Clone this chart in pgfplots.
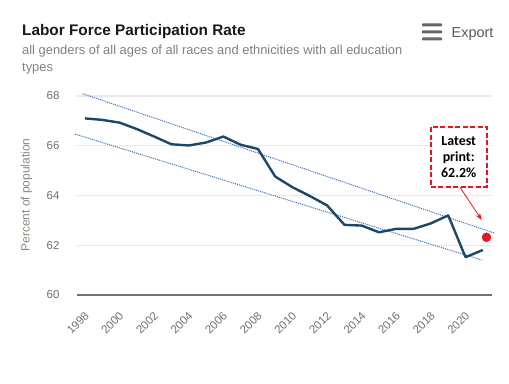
\documentclass[border=0pt]{standalone}
\usepackage{pgfplots}
\pgfplotsset{compat=1.18}
\usetikzlibrary{arrows.meta}
\usepackage{fontspec}
\setmainfont{Liberation Sans}
\newfontfamily\calib{Carlito}
\definecolor{navy}{HTML}{1C4768}
\definecolor{trend}{HTML}{3E6DB5}
\definecolor{gridc}{HTML}{E8E8E8}
\definecolor{basec}{HTML}{7A6F64}
\definecolor{tickc}{HTML}{707070}
\definecolor{subc}{HTML}{808080}
\definecolor{redc}{HTML}{E8151E}
\begin{document}
\begin{tikzpicture}
\useasboundingbox (0,0) rectangle (509bp,384bp);
% header
\node[anchor=base west, inner sep=0pt, text=black!90] at (22bp,348bp)
  {\fontsize{15.4}{18}\selectfont\bfseries Labor Force Participation Rate};
\node[anchor=base west, inner sep=0pt, text=subc] at (22bp,329bp)
  {\fontsize{12.95}{15}\selectfont all genders of all ages of all races and ethnicities with all education};
\node[anchor=base west, inner sep=0pt, text=subc] at (22bp,312.5bp)
  {\fontsize{12.95}{15}\selectfont types};
\node[anchor=base west, inner sep=0pt, text=black!65] at (451.5bp,346bp)
  {\fontsize{14.5}{17}\selectfont Export};
\foreach \yy in {359,352,345}
  \fill[black!60, rounded corners=0.8bp] (422bp,\yy bp-1.5bp) rectangle (442bp,\yy bp+1.5bp);
% y label
\node[rotate=90, text=basec!85, inner sep=0pt] at (26.5bp,189bp)
  {\fontsize{12}{14}\selectfont Percent of population};
\begin{axis}[
  at={(77bp,89bp)}, anchor=south west,
  scale only axis, width=415bp, height=199bp,
  xmin=1997.54, xmax=2021.53, ymin=60, ymax=68,
  ytick={60,62,64,66,68}, xtick={1998,2000,...,2020},
  ymajorgrids, grid style={gridc, line width=1.2bp},
  axis line style={draw=none}, major tick length=0pt,
  clip=false,
  /pgf/number format/1000 sep={},
  /pgf/number format/assume math mode=true,
  tick label style={text=tickc, font=\fontsize{11.5}{13}\selectfont},
  yticklabel style={xshift=-14bp},
  xticklabel style={xshift=-1bp, yshift=-16bp, rotate=45, anchor=north east, inner sep=0pt},
]
\draw[basec, line width=2.2bp] (axis cs:1997.54,60) -- (axis cs:2021.53,60);
\addplot[trend, densely dotted, line width=1bp] coordinates {(1997.87,68.09) (2021.7,62.48)};
\addplot[trend, densely dotted, line width=1bp] coordinates {(1997.42,66.47) (2020.93,61.41)};
\addplot[navy, line width=2.4bp, line join=round] coordinates {
(1998,67.1) (1999,67.04) (2000,66.93) (2001,66.67) (2002,66.37) (2003,66.06)
(2004,66.01) (2005,66.13) (2006,66.37) (2007,66.04) (2008,65.87) (2009,64.76)
(2010,64.33) (2011,63.98) (2012,63.6) (2013,62.82) (2014,62.79) (2015,62.52)
(2016,62.66) (2017,62.66) (2018,62.88) (2019,63.2) (2020,61.52) (2021,61.81)};
\addplot[only marks, mark=*, mark size=4.5bp, redc, mark options={draw=redc, fill=redc}] coordinates {(2021.21,62.32)};
\end{axis}
% annotation
\draw[redc, line width=0.8bp, -{Stealth[length=7bp,width=5bp]}] (460bp,196.7bp) -- (481.7bp,164bp);
\node[draw=redc, fill=white, dashed, dash pattern=on 5bp off 2.5bp, line width=2.2bp,
  minimum width=56bp, minimum height=60bp, inner sep=0pt, align=center,
  font=\calib\bfseries\fontsize{14}{16.5}\selectfont] at (458.7bp,227bp)
  {Latest\\print:\\62.2\%};
\end{tikzpicture}
\end{document}
